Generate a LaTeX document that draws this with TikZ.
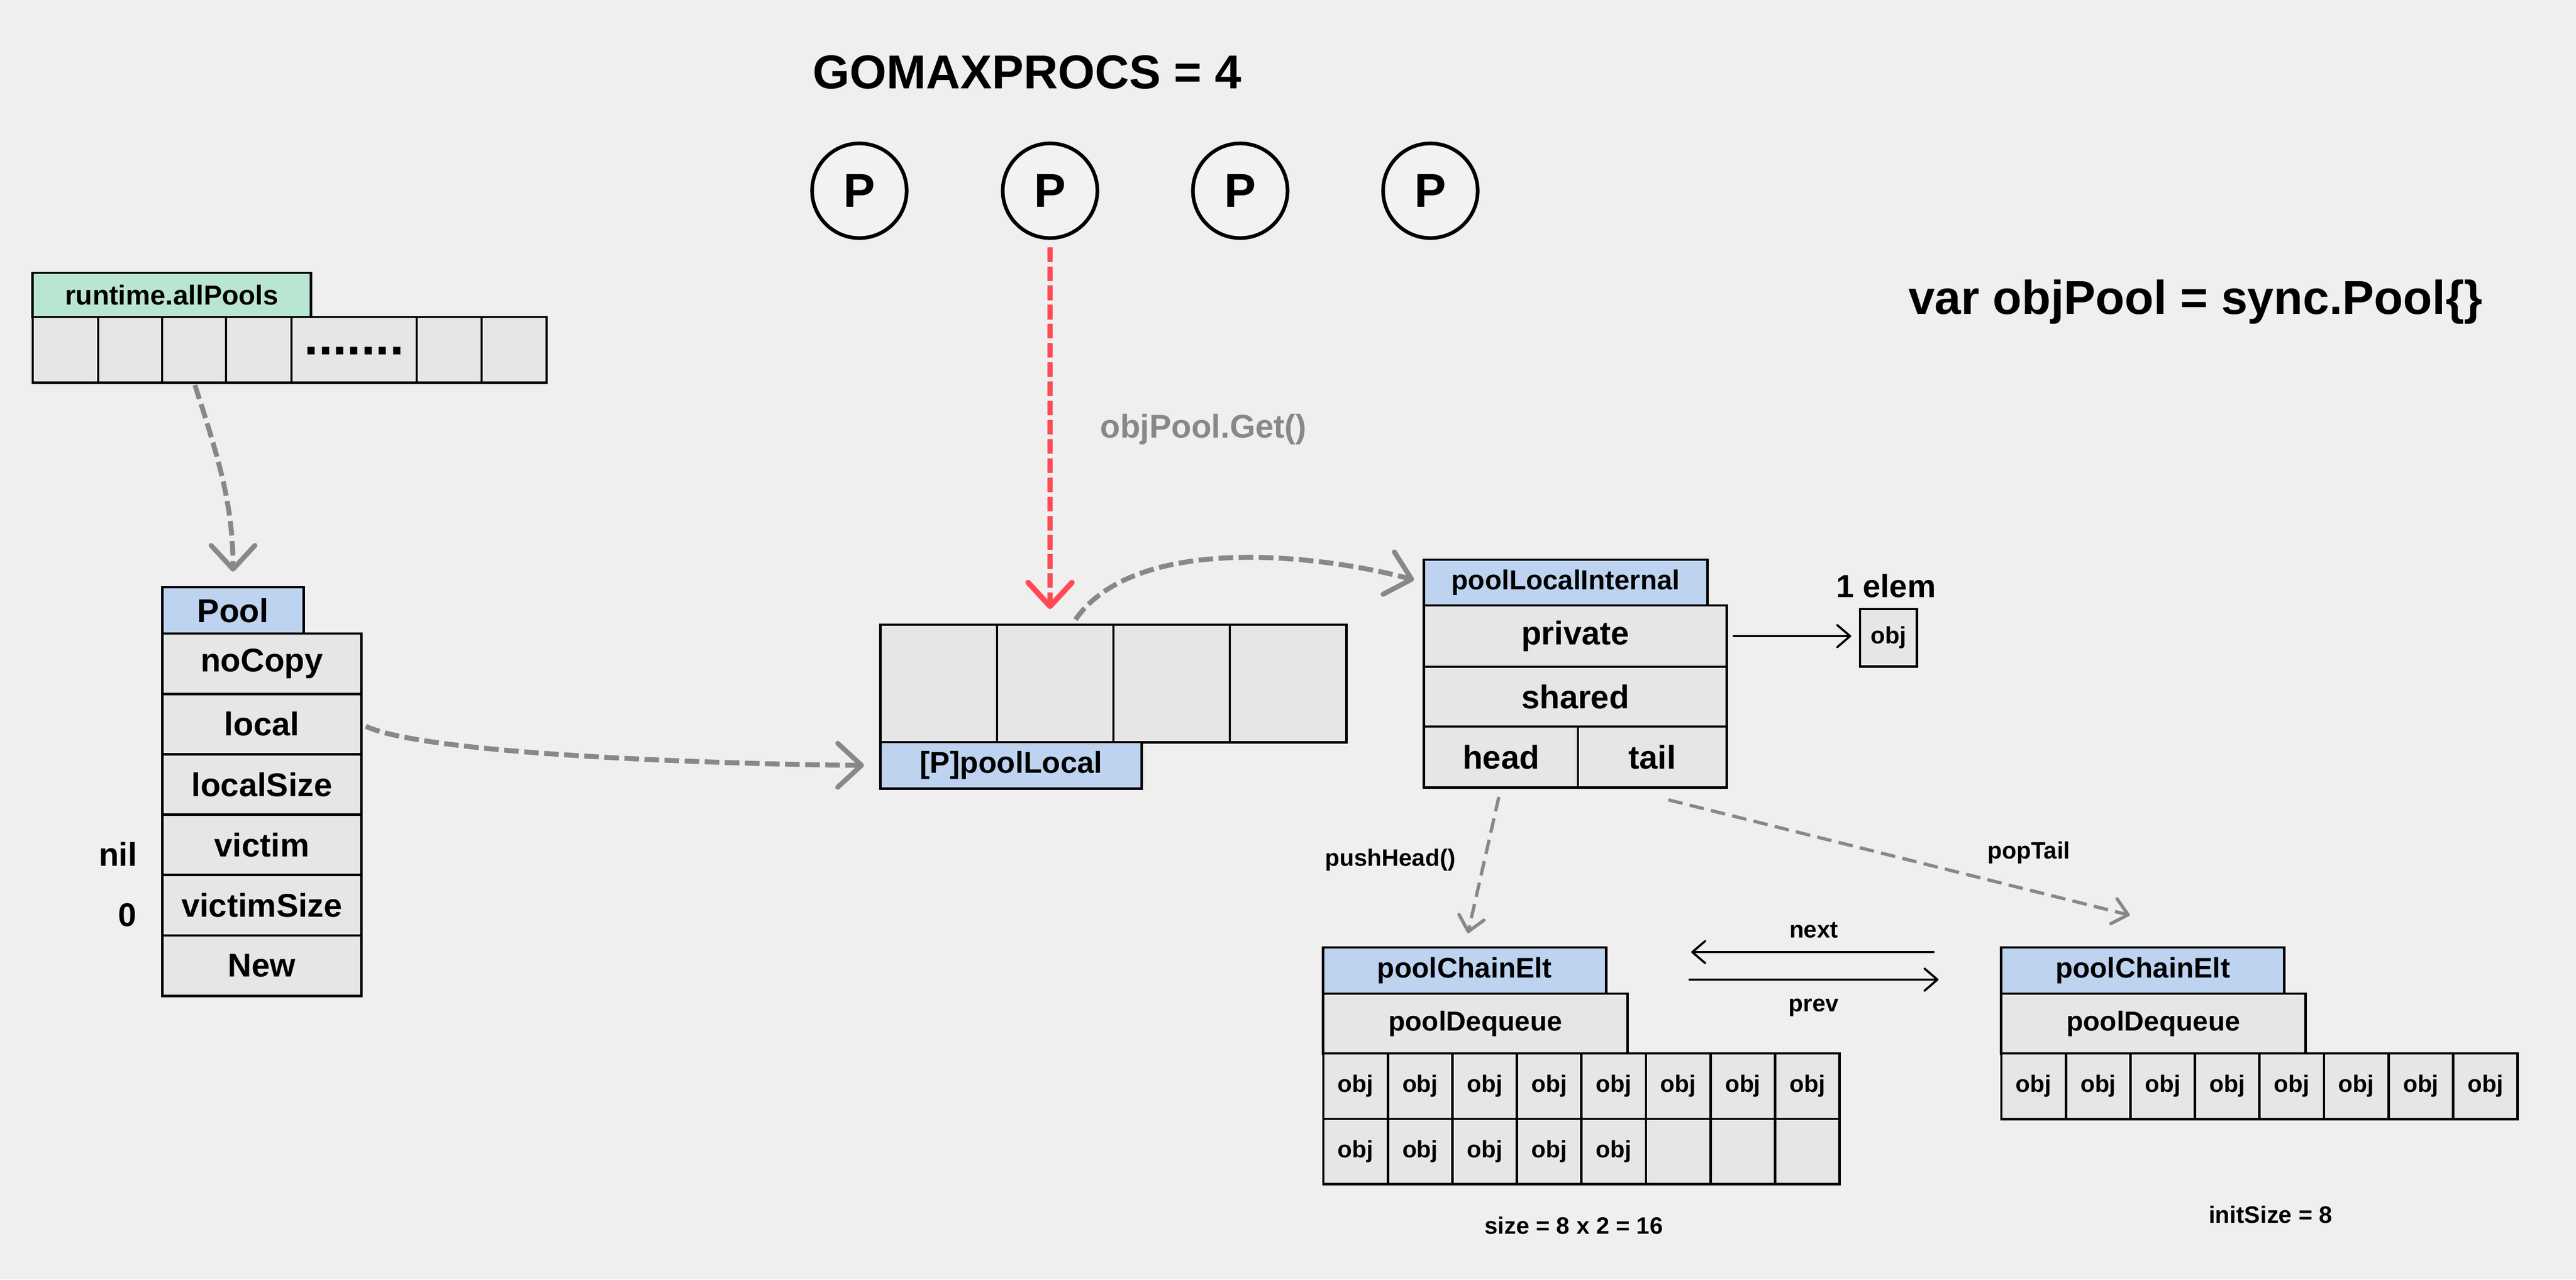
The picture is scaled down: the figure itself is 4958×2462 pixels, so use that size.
\documentclass[tikz,border=0pt]{standalone}
\usepackage{fontspec}
\setmainfont{Liberation Sans}
\usetikzlibrary{arrows.meta}

\definecolor{bggray}{HTML}{EFEFEF}
\definecolor{cellgray}{HTML}{E6E6E6}
\definecolor{labelblue}{HTML}{BDD3F0}
\definecolor{labelgreen}{HTML}{B9E6D2}
\definecolor{procgray}{HTML}{F2F2F2}
\definecolor{linkgray}{HTML}{888888}
\definecolor{getred}{HTML}{FF4A55}

\newcommand{\fsz}[1]{\fontsize{#1}{#1}\selectfont\bfseries}

\begin{document}
\begin{tikzpicture}[x=0.01cm,y=-0.01cm,
		cell/.style={draw,line width=1.4pt,fill=cellgray,inner sep=0pt,outer sep=0pt,font=\fsz{18}},
		bluelabel/.style={cell,fill=labelblue},
		greenlabel/.style={cell,fill=labelgreen},
		proc/.style={draw,circle,line width=2pt,fill=procgray,minimum size=1.82cm,inner sep=0pt,font=\fsz{26}},
		txt/.style={inner sep=0pt,outer sep=0pt},
		link/.style={draw=linkgray,line width=2.7pt,line cap=butt,dash pattern=on 8pt off 3pt,
			-{Straight Barb[length=13pt,width=24pt,round]}},
		getlink/.style={link,draw=getred,line width=3pt,dash pattern=on 8pt off 2.5pt},
		calllink/.style={draw=linkgray,line width=1.8pt,line cap=butt,dash pattern=on 8pt off 4pt,
			-{Straight Barb[length=8pt,width=14pt,round]}},
		ptr/.style={draw=black,line width=1.2pt,-{Straight Barb[length=7pt,width=12pt,round]}}]

		% draw the background
		\fill[bggray] (0,0) rectangle (4958,2462);
		\useasboundingbox (0,0) rectangle (4958,2462);

		% draw the title and the four P's
		\node[txt,anchor=base west,font=\fsz{26}] (gomax) at (1564,170) {GOMAXPROCS = 4};
		\foreach \i/\x in {1/1654,2/2021,3/2387,4/2753}
			\node[proc] (p\i) at (\x,367) {P};
		\node[txt,anchor=base west,font=\fsz{26}] (decl) at (3673,604) {var objPool = sync.Pool\{\}};

		% draw runtime.allPools
		\node[greenlabel,minimum width=5.35cm,minimum height=0.85cm,font=\fsz{15}] (allpools) at (330.5,567.5) {runtime.allPools};
		\foreach \i/\a/\b in {1/63/189,2/189/312,3/312/435,4/435/561,5/561/802,6/802/927,7/927/1052}
			\node[cell,minimum width={(\b-\a)*0.01cm},minimum height=1.26cm] (ap\i) at ({(\a+\b)/2},673) {};
		\node[txt,anchor=base,font=\fsz{28}] (apdots) at (681.5,682) {.......};

		% draw the Pool struct
		\node[bluelabel,minimum width=2.71cm,minimum height=0.89cm] (pool) at (448.5,1174.5) {Pool};
		\foreach \i/\t in {0/noCopy,1/local,2/localSize,3/victim,4/victimSize,5/New}
			\node[cell,minimum width=3.82cm,minimum height=1.162cm] (pf\i) at (504,{1277.1+116.2*\i}) {\t};
		\node[txt,anchor=base east,font=\fsz{18}] (nilval) at (264,1666) {nil};
		\node[txt,anchor=base east,font=\fsz{18}] (zeroval) at (263,1782) {0};

		% draw the per-P poolLocal array
		\foreach \i in {1,...,4}
			\node[cell,minimum width=2.24cm,minimum height=2.26cm] (plc\i) at ({1695+224*(\i-0.5)},1315) {};
		\node[bluelabel,minimum width=5.02cm,minimum height=0.89cm,font=\fsz{16.5}] (plocal) at (1946,1472.5) {[P]poolLocal};

		% draw poolLocalInternal
		\node[bluelabel,minimum width=5.45cm,minimum height=0.88cm,font=\fsz{15}] (pli) at (3013.5,1121) {poolLocalInternal};
		\node[cell,minimum width=5.82cm,minimum height=1.18cm] (priv) at (3032,1224) {private};
		\node[cell,minimum width=5.82cm,minimum height=1.15cm] (shared) at (3032,1340.5) {shared};
		\node[cell,minimum width=2.96cm,minimum height=1.17cm] (head) at (2889,1456.5) {head};
		\node[cell,minimum width=2.86cm,minimum height=1.17cm] (tail) at (3180,1456.5) {tail};
		\node[txt,font=\fsz{17.5}] (elem) at (3630,1127) {1 elem};
		\node[cell,minimum width=1.09cm,minimum height=1.10cm,font=\fsz{13}] (single) at (3634.5,1227) {obj};

		% draw the two poolChainElt's
		\foreach \c/\x in {l/2547,r/3852} {
			\node[bluelabel,minimum width=5.44cm,minimum height=0.89cm,font=\fsz{15.5}] (\c ce) at ({\x+272},1867.5) {poolChainElt};
			\node[cell,minimum width=5.85cm,minimum height=1.15cm,font=\fsz{15}] (\c dq) at ({\x+292.5},1969.5) {poolDequeue};
			\foreach \j in {1,...,8}
				\node[cell,minimum width=1.242cm,minimum height=1.26cm,font=\fsz{13}] (\c o1\j) at ({\x+124.2*(\j-0.5)},2090) {obj};
		}
		% second row of the left ring
		\foreach \j/\t in {1/obj,2/obj,3/obj,4/obj,5/obj,6/,7/,8/}
			\node[cell,minimum width=1.242cm,minimum height=1.25cm,font=\fsz{13}] (lo2\j) at ({2547+124.2*(\j-0.5)},2215.5) {\t};
		\node[txt,font=\fsz{13}] (lsize) at (3029,2358) {size = 8 x 2 = 16};
		\node[txt,font=\fsz{13}] (rsize) at (4370,2337) {initSize = 8};

		% draw the gray links
		\draw[link,shorten <=0.05cm,shorten >=0.3cm] (ap3.south) to[out=-72,in=90] (pool.north);
		\draw[link,shorten <=0.1cm,shorten >=0.32cm] (pf1.east) to[out=-25,in=180,looseness=0.4] (plocal.west);
		\draw[link,shorten <=0.12cm,shorten >=0.2cm] ([xshift=0.32cm]plc2.north) to[out=55,in=165,looseness=0.8] (pli.west);

		% draw the Get() call
		\draw[getlink,shorten <=0.14cm,shorten >=0.3cm] (p2.south) -- (p2.south |- plc2.north);
		\node[txt,font=\fsz{18},text=linkgray] (getlbl) at (2316,826) {objPool.Get()};

		% draw the head and tail calls
		\draw[calllink,shorten <=0.19cm,shorten >=0.28cm] (head.south) -- (lce.north);
		\draw[calllink] ([shift={(31,24)}]tail.south) -- ([shift={(-25,-62)}]rce.north);
		\node[txt,font=\fsz{13}] (pushlbl) at (2676,1655) {pushHead()};
		\node[txt,font=\fsz{13}] (poplbl) at (3905,1641) {popTail};

		% draw the private pointer
		\draw[ptr,shorten <=0.12cm,shorten >=0.17cm] (priv.east) -- (priv.east -| single.west);

		% draw next and prev
		\coordinate (nextR) at (3723,1832);
		\coordinate (nextL) at (3255,1832);
		\coordinate (prevL) at (3250,1885);
		\coordinate (prevR) at (3731,1885);
		\draw[ptr] (nextR) -- (nextL);
		\draw[ptr] (prevL) -- (prevR);
		\node[txt,font=\fsz{13}] (nextlbl) at (3491,1790) {next};
		\node[txt,font=\fsz{13}] (prevlbl) at (3491,1939) {prev};
\end{tikzpicture}
\end{document}
